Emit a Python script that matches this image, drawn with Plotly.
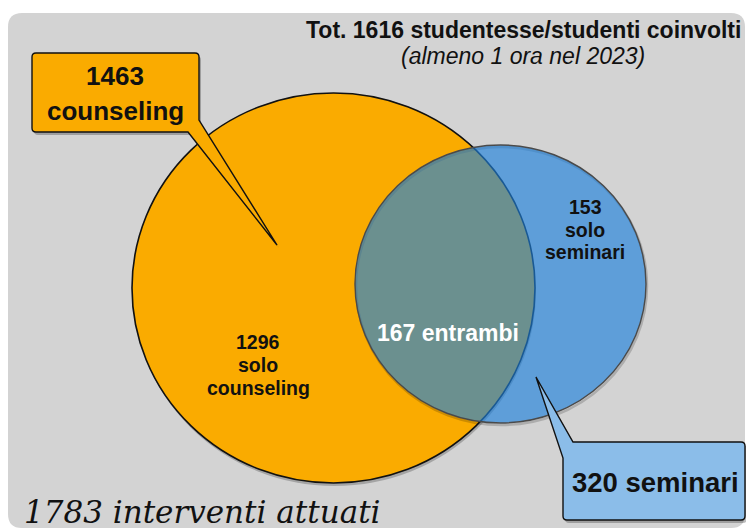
import plotly.graph_objects as go

# ---- data ----
set_names = ["counseling", "seminari"]
set_totals = [1463, 320]
region_names = ["solo counseling", "entrambi", "solo seminari"]
region_values = [1296, 167, 153]
total_students = [1616]
total_interventions = [1783]
year = [2023]

W, H = 746, 530
SANS = "Liberation Sans, Arial, sans-serif"

GREY = "#d3d3d3"
ORANGE = "#faab00"
BLUE_FILL = "rgba(31,129,220,0.65)"
BOX_BLUE = "#8bbde9"


def rounded_rect(x0, y0, x1, y1, r):
    return (f"M {x0+r},{y0} L {x1-r},{y0} Q {x1},{y0} {x1},{y0+r} "
            f"L {x1},{y1-r} Q {x1},{y1} {x1-r},{y1} L {x0+r},{y1} "
            f"Q {x0},{y1} {x0},{y1-r} L {x0},{y0+r} Q {x0},{y0} {x0+r},{y0} Z")


def callout1(dx=0, dy=0):
    x0, y0, x1, y1, r = 32 + dx, 53 + dy, 199 + dx, 132 + dy, 4
    tx, ty = 277 + dx, 245 + dy
    return (f"M {x0+r},{y0} L {x1-r},{y0} Q {x1},{y0} {x1},{y0+r} "
            f"L {x1},{y1-12} L {tx},{ty} L {x1-11},{y1} "
            f"L {x0+r},{y1} Q {x0},{y1} {x0},{y1-r} L {x0},{y0+r} Q {x0},{y0} {x0+r},{y0} Z")


def callout2(dx=0, dy=0):
    x0, y0, x1, y1, r = 563 + dx, 442 + dy, 745 + dx, 520 + dy, 4
    tx, ty = 536 + dx, 377 + dy
    return (f"M {x0+10},{y0} L {x1-r},{y0} Q {x1},{y0} {x1},{y0+r} "
            f"L {x1},{y1-r} Q {x1},{y1} {x1-r},{y1} L {x0+r},{y1} "
            f"Q {x0},{y1} {x0},{y1-r} L {x0},{y0+16} L {tx},{ty} Z")


shapes = [
    dict(type="path", path=rounded_rect(8, 13, 745, 528, 14), fillcolor=GREY,
         line=dict(width=0), layer="below"),
    dict(type="circle", x0=133, x1=536, y0=96, y1=486, fillcolor="rgba(0,0,0,0.22)",
         line=dict(width=0)),
    dict(type="circle", x0=132, x1=535, y0=93, y1=483, fillcolor=ORANGE,
         line=dict(color="#111111", width=1.6)),
    dict(type="circle", x0=356, x1=647, y0=147, y1=425, fillcolor="rgba(0,0,0,0)",
         line=dict(color="rgba(0,0,0,0.18)", width=2.5)),
    dict(type="circle", x0=355, x1=646, y0=145, y1=423, fillcolor=BLUE_FILL,
         line=dict(color="#4a4a4a", width=1.4)),
    dict(type="path", path=callout1(2, 3), fillcolor="rgba(0,0,0,0.25)", line=dict(width=0)),
    dict(type="path", path=callout2(2, 3), fillcolor="rgba(0,0,0,0.25)", line=dict(width=0)),
    dict(type="path", path=callout1(), fillcolor=ORANGE, line=dict(color="#111111", width=1.4)),
    dict(type="path", path=callout2(), fillcolor=BOX_BLUE, line=dict(color="#111111", width=1.4)),
]


def txt(x, y, s, size, color="#111111", bold=True, italic=False, family=SANS, xanchor="center"):
    return dict(x=x, y=y, xref="x", yref="y", text=s, showarrow=False,
                xanchor=xanchor, yanchor="middle",
                font=dict(family=family, size=size, color=color,
                          weight="bold" if bold else "normal",
                          style="italic" if italic else "normal"))


annotations = [
    txt(743, 30, f"Tot. {total_students[0]} studentesse/studenti coinvolti", 23, xanchor="right"),
    txt(523, 56, f"(almeno 1 ora nel {year[0]})", 23, bold=False, italic=True),
    txt(115, 76, f"{set_totals[0]}", 26),
    txt(115, 111, set_names[0], 26),
    txt(655, 482, f"{set_totals[1]} {set_names[1]}", 27.5),
    txt(258, 342, f"{region_values[0]}", 19.5),
    txt(258, 365, region_names[0].split()[0], 19.5),
    txt(258, 388, region_names[0].split()[1], 19.5),
    txt(448, 333, f"{region_values[1]} {region_names[1]}", 23, color="#ffffff"),
    txt(585, 207, f"{region_values[2]}", 19.5),
    txt(585, 230, region_names[2].split()[0], 19.5),
    txt(585, 252, region_names[2].split()[1], 19.5),
    txt(22, 512, f"{total_interventions[0]} interventi attuati", 31, bold=False, italic=True,
        family="DejaVu Serif, serif", xanchor="left"),
]

fig = go.Figure()
fig.add_trace(go.Scatter(x=[], y=[], mode="markers", showlegend=False))
fig.update_layout(
    width=W, height=H,
    margin=dict(l=0, r=0, t=0, b=0),
    paper_bgcolor="white", plot_bgcolor="white",
    xaxis=dict(range=[0, W], visible=False, fixedrange=True),
    yaxis=dict(range=[H, 0], visible=False, fixedrange=True),
    shapes=shapes,
    annotations=annotations,
    showlegend=False,
)
fig.write_html("out.html", config={"displayModeBar": False},
               post_script="document.body.style.margin='0';")
